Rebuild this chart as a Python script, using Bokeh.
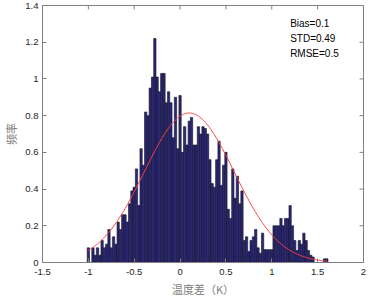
import numpy as np
from bokeh.plotting import figure
from bokeh.models import FixedTicker, Label, Range1d
from bokeh.embed import file_html
from bokeh.resources import INLINE

# ---- data ----
bin_start = -1.0
bin_width = 0.025
heights = [
    0.08, 0.00, 0.08, 0.04, 0.08, 0.04, 0.12, 0.08, 0.10, 0.18,
    0.08, 0.14, 0.10, 0.22, 0.18, 0.26, 0.26, 0.22, 0.32, 0.39,
    0.41, 0.51, 0.31, 0.62, 0.53, 0.82, 0.80, 0.95, 1.01, 1.22,
    1.01, 0.93, 1.03, 1.03, 0.87, 0.93, 0.87, 0.68, 0.90, 0.62,
    0.91, 0.60, 0.74, 0.64, 0.77, 0.79, 0.64, 0.64, 0.74, 0.70,
    0.74, 0.73, 0.70, 0.56, 0.43, 0.41, 0.56, 0.66, 0.42, 0.53,
    0.60, 0.29, 0.24, 0.51, 0.35, 0.47, 0.32, 0.39, 0.12, 0.14,
    0.06, 0.12, 0.14, 0.18, 0.08, 0.05, 0.16, 0.07, 0.07, 0.07,
    0.07, 0.20, 0.20, 0.20, 0.24, 0.20, 0.24, 0.24, 0.31, 0.20,
    0.12, 0.065, 0.12, 0.10, 0.16, 0.12, 0.065, 0.04, 0.03, 0.0,
    0.0, 0.0, 0.0, 0.02, 0.02,
]
bias = 0.1
std = 0.49
rmse = 0.5
stats_text = ["Bias=0.1", "STD=0.49", "RMSE=0.5"]
x_ticks = [-1.5, -1, -0.5, 0, 0.5, 1, 1.5, 2]
x_tick_labels = ["-1.5", "-1", "-0.5", "0", "0.5", "1", "1.5", "2"]
y_ticks = [0, 0.2, 0.4, 0.6, 0.8, 1.0, 1.2, 1.4]
y_tick_labels = ["0", "0.2", "0.4", "0.6", "0.8", "1", "1.2", "1.4"]
x_label = "温度差（K）"
y_label = "频率"

x_lo, x_hi = -1.5, 2
y_lo, y_hi = 0, 1.4

centers = bin_start + bin_width * np.arange(len(heights))

p = figure(width=368, height=299, output_backend="svg", toolbar_location=None,
           x_range=Range1d(x_lo, x_hi), y_range=Range1d(y_lo, y_hi),
           min_border_left=36, min_border_right=5, min_border_top=5, min_border_bottom=36)
p.background_fill_color = "white"
p.border_fill_color = "white"
p.outline_line_color = "#808080"
p.xgrid.visible = False
p.ygrid.visible = False

p.vbar(x=centers, width=bin_width, top=heights, bottom=0,
       fill_color="#2a2682", line_color="#141414", line_width=0.6)

# fitted normal curve from the shown statistics
xc = np.linspace(centers[0], centers[-1], 300)
yc = np.exp(-0.5 * ((xc - bias) / std) ** 2) / (std * np.sqrt(2 * np.pi))
p.line(xc, yc, line_color="#ff4040", line_width=1)

tick_font = "Liberation Sans"
axis_col = "#808080"

def style_axis(ax, ticks, labels):
    ax.ticker = FixedTicker(ticks=ticks)
    ax.major_label_overrides = {t: l for t, l in zip(ticks, labels)}
    ax.major_tick_in = 4
    ax.major_tick_out = 0
    ax.minor_tick_in = 0
    ax.minor_tick_out = 0
    ax.axis_line_color = axis_col
    ax.major_tick_line_color = axis_col
    ax.major_label_text_font = tick_font
    ax.major_label_text_color = "#262626"
    ax.major_label_text_font_size = "9.5px"

style_axis(p.xaxis[0], x_ticks, x_tick_labels)
style_axis(p.yaxis[0], y_ticks, y_tick_labels)
p.xaxis[0].major_label_standoff = 6
p.yaxis[0].major_label_standoff = 4

p.xaxis[0].axis_label = x_label
p.xaxis[0].axis_label_text_font = "Noto Sans CJK SC"
p.xaxis[0].axis_label_text_font_size = "11px"
p.xaxis[0].axis_label_text_font_style = "normal"
p.xaxis[0].axis_label_text_color = "#808080"
p.xaxis[0].axis_label_standoff = 3

p.yaxis[0].axis_label = y_label
p.yaxis[0].axis_label_text_font = "Noto Sans CJK SC"
p.yaxis[0].axis_label_text_font_size = "11px"
p.yaxis[0].axis_label_text_font_style = "normal"
p.yaxis[0].axis_label_text_color = "#808080"
p.yaxis[0].axis_label_standoff = 3

# inward ticks on the top and right edges of the box (half of each dash is clipped by the frame)
p.scatter(x=x_ticks, y=[y_hi] * len(x_ticks), marker="dash", angle=np.pi / 2,
          size=8, line_color=axis_col, line_width=1)
p.scatter(x=[x_hi] * len(y_ticks), y=y_ticks, marker="dash", angle=0,
          size=8, line_color=axis_col, line_width=1)

for i, t in enumerate(stats_text):
    p.add_layout(Label(x=1.2, y=1.30 - 0.08 * i, text=t, text_font=tick_font,
                       text_font_size="10px", text_color="#000000",
                       text_baseline="middle", text_align="left"))

open("out.html", "w").write(file_html(p, INLINE))
